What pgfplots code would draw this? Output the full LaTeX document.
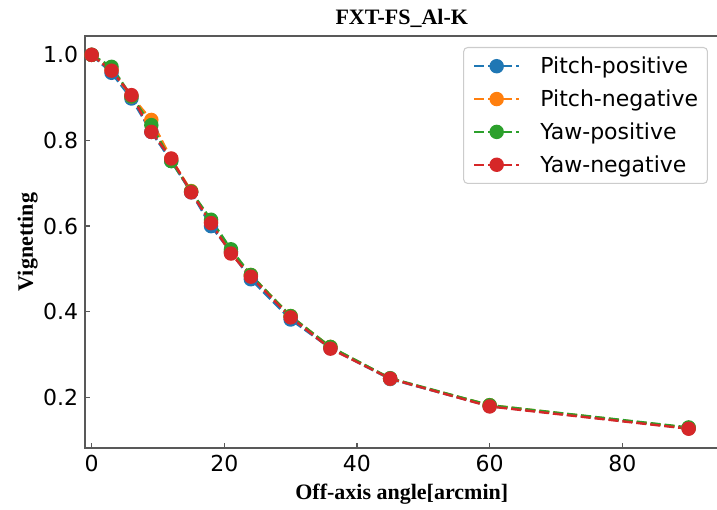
\documentclass[border=0pt]{standalone}
\usepackage{fontspec}
\setmainfont{Liberation Serif}
\newfontfamily\dejavu{DejaVu Sans}
\usepackage{pgfplots}
\pgfplotsset{compat=1.18}

\definecolor{tabblue}{HTML}{1F77B4}
\definecolor{taborange}{HTML}{FF7F0E}
\definecolor{tabgreen}{HTML}{2CA02C}
\definecolor{tabred}{HTML}{D62728}

\newcommand{\labelfont}{\fontsize{16.5}{19}\selectfont\bfseries}
\newcommand{\sansfont}{\dejavu\fontsize{16.5}{19}\selectfont}

\begin{document}
\begin{tikzpicture}
\useasboundingbox (-63.75pt,-46.5pt) rectangle (474pt,336pt);
\begin{axis}[
  at={(0,0)}, anchor=south west,
  scale only axis, width=475.125pt, height=309pt,
  xmin=-1, xmax=94.5, ymin=0.082, ymax=1.044,
  xtick={0,20,40,60,80},
  ytick={0.2,0.4,0.6,0.8,1.0},
  /pgf/number format/assume math mode=true,
  yticklabel style={/pgf/number format/fixed,
    /pgf/number format/fixed zerofill,
    /pgf/number format/precision=1,
    anchor=east, inner sep=0pt, xshift=-5pt},
  xticklabel style={anchor=north, inner sep=0pt, yshift=-5.25pt},
  ticklabel style={font=\sansfont},
  axis line style={black!65, line width=1.2pt},
  tick align=inside, tick pos=left,
  major tick length=3.75pt,
  tick style={black!65, line width=1pt},
  every axis title shift=0pt,
  title={FXT-FS\_Al-K},
  title style={at={(axis description cs:0.5,1.0279)}, anchor=base, font=\labelfont},
  xlabel={Off-axis angle[arcmin]},
  xlabel style={at={(axis description cs:0.5,-0.1238)}, anchor=base, font=\labelfont},
  ylabel={Vignetting},
  ylabel style={at={(axis description cs:-0.0821,0.5)}, anchor=base, rotate=0, font=\labelfont},
  every axis plot/.append style={line width=1.8pt, dash pattern=on 7.5pt off 3pt,
    mark=*, mark size=4.5pt, mark options={solid}},
  legend image code/.code={
    \draw[mark repeat=2, mark phase=2, #1]
      plot coordinates {(0pt,0pt) (16.875pt,0pt) (33.75pt,0pt)};
  },
  legend cell align=left,
  legend style={at={(axis description cs:0.9834,0.9733)}, anchor=north east,
    draw=black!20, line width=0.8pt, rounded corners=3pt, fill=white,
    inner sep=7pt, row sep=10.6pt, column sep=15pt,
    font=\sansfont, nodes={inner sep=0pt}},
]
% Pitch, positive direction
\addplot[color=tabblue] coordinates {
  (0,1.000) (3,0.958) (6,0.898) (9,0.820) (12,0.752) (15,0.679)
  (18,0.600) (21,0.540) (24,0.476) (30,0.382) (36,0.315) (45,0.243)
  (60,0.180) (90,0.128)};
\addlegendentry{Pitch-positive}
% Pitch, negative direction
\addplot[color=taborange] coordinates {
  (0,1.000) (3,0.965) (6,0.903) (9,0.848) (12,0.757) (15,0.682)
  (18,0.610) (21,0.540) (24,0.486) (30,0.390) (36,0.318) (45,0.244)
  (60,0.182) (90,0.129)};
\addlegendentry{Pitch-negative}
% Yaw, positive direction
\addplot[color=tabgreen] coordinates {
  (0,1.000) (3,0.972) (6,0.903) (9,0.836) (12,0.752) (15,0.681)
  (18,0.615) (21,0.546) (24,0.486) (30,0.390) (36,0.318) (45,0.245)
  (60,0.182) (90,0.130)};
\addlegendentry{Yaw-positive}
% Yaw, negative direction
\addplot[color=tabred] coordinates {
  (0,1.000) (3,0.963) (6,0.906) (9,0.820) (12,0.758) (15,0.679)
  (18,0.607) (21,0.536) (24,0.482) (30,0.387) (36,0.314) (45,0.244)
  (60,0.179) (90,0.127)};
\addlegendentry{Yaw-negative}
\end{axis}
\end{tikzpicture}
\end{document}
